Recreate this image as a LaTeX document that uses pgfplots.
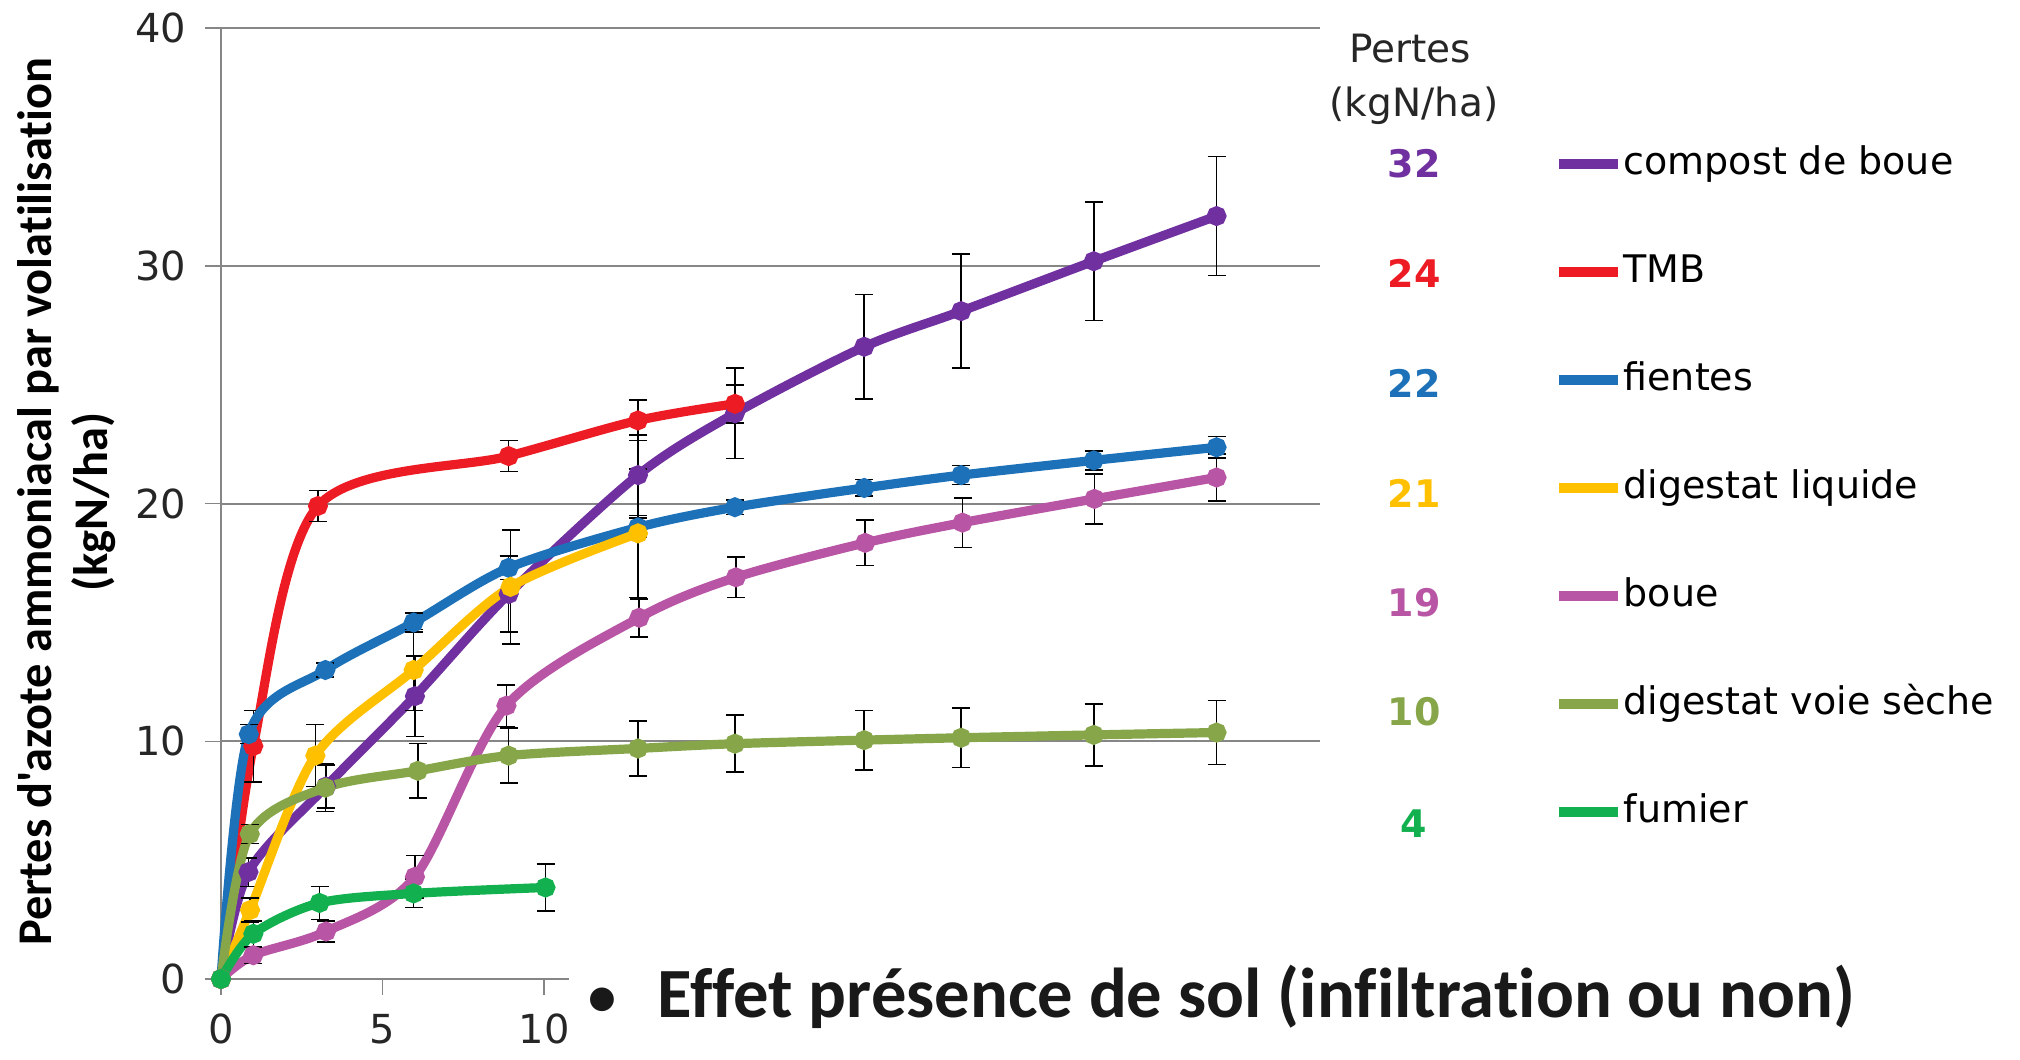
\documentclass[border=0pt]{standalone}
\usepackage{pgfplots}
\usepackage{pgfplotstable}
\pgfplotsset{compat=1.18}
\usepackage{fontspec}
\setmainfont{DejaVu Sans}
\newfontfamily\carlito[Ligatures=NoCommon]{Carlito}
\definecolor{cpurple}{HTML}{7030A0}
\definecolor{cred}{HTML}{ED1C24}
\definecolor{cblue}{HTML}{1C71B8}
\definecolor{cyellow}{HTML}{FFC000}
\definecolor{cpink}{HTML}{B855A4}
\definecolor{colive}{HTML}{86A649}
\definecolor{cgreen}{HTML}{12B04F}
\definecolor{axgray}{HTML}{868686}

\pgfplotstableread{
x y e
0 0 0
0.85 4.5 0.6
3.25 8.1 0.9
6 11.9 1.7
8.9 16.2 1.6
12.9 21.2 1.7
15.9 23.8 1.9
19.9 26.6 2.2
22.9 28.1 2.4
27 30.2 2.5
30.8 32.1 2.5
}\compost
\pgfplotstableread{
x y e
0 0 0
1 9.8 1.5
3 19.9 0.65
8.9 22.0 0.65
12.9 23.5 0.85
15.9 24.2 0.8
}\tmb
\pgfplotstableread{
x y e
0 0 0
0.86 10.3 0.4
3.23 13.0 0.3
5.96 15.0 0.4
8.9 17.3 0.5
12.9 19.0 0.4
15.9 19.85 0.3
19.9 20.66 0.35
22.9 21.2 0.4
27 21.82 0.4
30.8 22.37 0.45
}\fientes
\pgfplotstableread{
x y e
0 0 0
0.9 2.9 0.5
2.92 9.4 1.3
5.96 13.0 1.7
8.96 16.5 2.4
12.9 18.75 2.7
}\digliq
\pgfplotstableread{
x y e
0 0 0
1 1.0 0.35
3.25 2.0 0.45
6 4.3 0.9
8.83 11.5 0.87
12.94 15.2 0.8
15.93 16.9 0.85
19.93 18.35 0.95
22.94 19.2 1.05
27.02 20.2 1.05
30.8 21.1 1.0
}\boue
\pgfplotstableread{
x y e
0 0 0
0.89 6.1 0.4
3.23 8.05 1.0
6.09 8.76 1.15
8.9 9.4 1.15
12.9 9.7 1.15
15.9 9.9 1.2
19.9 10.05 1.25
22.9 10.15 1.25
27 10.27 1.3
30.8 10.37 1.35
}\digsec
\pgfplotstableread{
x y e
0 0 0
1 1.9 0.55
3.05 3.2 0.7
5.96 3.6 0.6
10.04 3.85 1.0
}\fumier

\begin{document}
\begin{tikzpicture}
\useasboundingbox (0,0) rectangle (1010pt,530pt);
\begin{axis}[
  at={(110.5pt,40.5pt)}, anchor=south west,
  scale only axis, width=549.5pt, height=475.35pt,
  xmin=0, xmax=34, ymin=0, ymax=40,
  axis lines*=left,
  axis line style={axgray, line width=0.8pt},
  ymajorgrids, grid style={axgray, line width=0.9pt},
  xtick={0,5,10}, ytick={0,10,20,30,40},
  tick align=outside, major tick length=8pt,
  tick style={axgray, line width=0.8pt},
  /pgf/number format/assume math mode=true,
  ticklabel style={font=\fontsize{20}{24}\selectfont, text=black!85},
  xticklabel style={yshift=-6pt},
  yticklabel style={xshift=-6pt},
  clip=false,
  every axis plot/.append style={line width=4.6pt, smooth, mark=*, mark size=2.6pt, mark options={solid, line width=0.3pt}},
  eb/.style={error bars/.cd, y dir=both, y explicit,
     error bar style={black, line width=0.8pt},
     error mark options={rotate=90, black, mark size=4.5pt, line width=0.8pt}},
  legend style={at={(1.213,0.8797)}, anchor=north west, draw=none, fill=none,
     font=\fontsize{19}{22}\selectfont, row sep=33pt, inner sep=0pt,
     nodes={inner sep=0.5pt, text height=15pt, text depth=5pt}},
  legend cell align=left,
  legend image code/.code={\draw[#1, line width=4.6pt, mark=none] (0pt,0pt) -- (29.5pt,0pt);},
]
\addplot[cpurple, mark options={fill=cpurple, draw=cpurple}, eb] table[x=x,y=y,y error=e]{\compost};
\addlegendentry{compost de boue}
\addplot[cred, mark options={fill=cred, draw=cred}, eb] table[x=x,y=y,y error=e]{\tmb};
\addlegendentry{TMB}
\addplot[cblue, mark options={fill=cblue, draw=cblue}, eb] table[x=x,y=y,y error=e]{\fientes};
\addlegendentry{fientes}
\addplot[cyellow, mark options={fill=cyellow, draw=cyellow}, eb] table[x=x,y=y,y error=e]{\digliq};
\addlegendentry{digestat liquide}
\addplot[cpink, mark options={fill=cpink, draw=cpink}, eb] table[x=x,y=y,y error=e]{\boue};
\addlegendentry{boue}
\addplot[colive, mark options={fill=colive, draw=colive}, eb] table[x=x,y=y,y error=e]{\digsec};
\addlegendentry{digestat voie sèche}
\addplot[cgreen, mark options={fill=cgreen, draw=cgreen}, eb] table[x=x,y=y,y error=e]{\fumier};
\addlegendentry{fumier}
\end{axis}
% y axis label
\node[rotate=90, align=center, font=\carlito\bfseries\fontsize{24.2}{27.7}\selectfont] at (33.25pt,279pt)
  {Pertes d'azote ammoniacal par volatilisation\\(kgN/ha)};
% header of losses column
\node[font=\fontsize{19.5}{22}\selectfont, text=black!85] at (705pt,505.5pt) {Pertes};
\node[font=\fontsize{19.5}{22}\selectfont, text=black!85] at (707pt,477pt) {(kgN/ha)};
\begin{scope}[every node/.style={font=\bfseries\fontsize{19}{22}\selectfont}]
\node[text=cpurple] at (707pt,448pt) {32};
\node[text=cred] at (707pt,393.5pt) {24};
\node[text=cblue] at (707pt,338.5pt) {22};
\node[text=cyellow] at (707pt,283.5pt) {21};
\node[text=cpink] at (707pt,228.5pt) {19};
\node[text=colive] at (707pt,174pt) {10};
\node[text=cgreen] at (707pt,118pt) {4};
\end{scope}
% text box of the slide over the lower part
\fill[white] (284.5pt,0pt) rectangle (1010pt,52.5pt);
\node[anchor=base, inner sep=0pt, font=\carlito\bfseries\fontsize{28}{34}\selectfont, text=black!90] at (301pt,22pt) {•};
\node[anchor=base west, inner sep=0pt, font=\carlito\bfseries\fontsize{35.3}{42}\selectfont, text=black!90] at (328.5pt,21pt) {Effet présence de sol (infiltration ou non)};
\end{tikzpicture}
\end{document}
